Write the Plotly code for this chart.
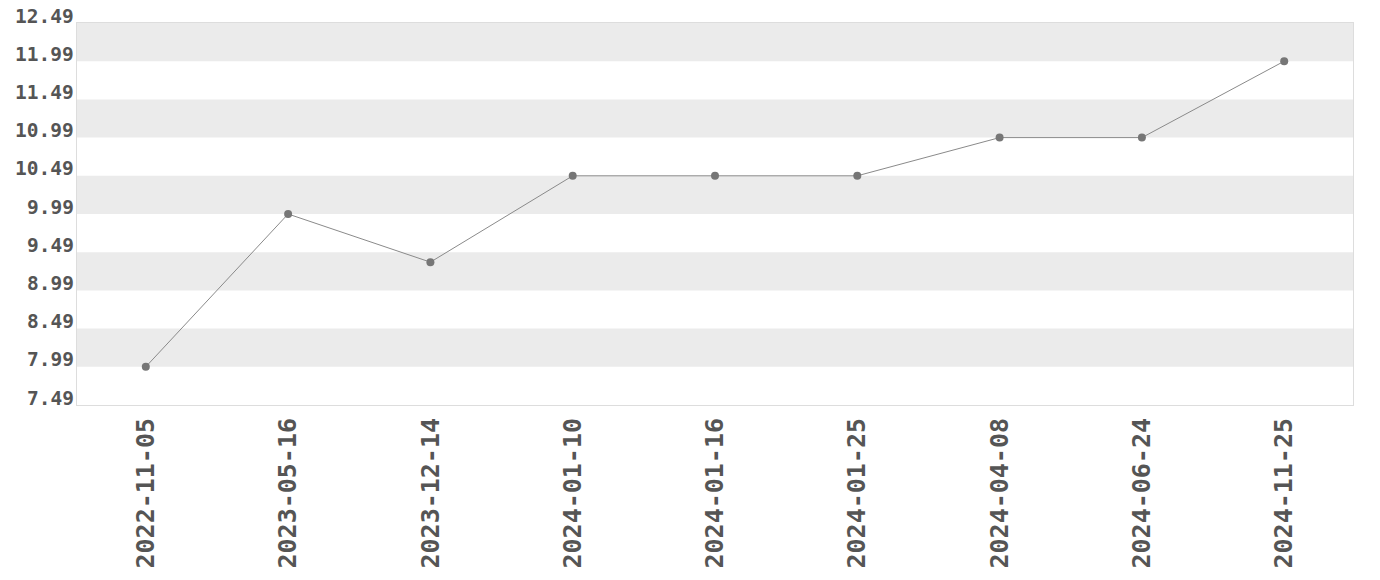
import plotly.graph_objs as go
import numpy as np

dates = ["2022-11-05", "2023-05-16", "2023-12-14", "2024-01-10", "2024-01-16",
         "2024-01-25", "2024-04-08", "2024-06-24", "2024-11-25"]
prices = [7.99, 9.99, 9.36, 10.49, 10.49, 10.49, 10.99, 10.99, 11.99]
y_ticks = [7.49, 7.99, 8.49, 8.99, 9.49, 9.99, 10.49, 10.99, 11.49, 11.99, 12.49]

font_family = "DejaVu Sans Mono"
label_font = dict(size=19.5, family=font_family, weight="bold", color="#555555")

fig = go.Figure(go.Scatter(
    x=dates,
    y=prices,
    mode="lines+markers",
    line=dict(color="#8a8a8a", width=1),
    marker=dict(color="#767676", size=8),
    showlegend=False,
))

# alternating horizontal bands between tick values
shapes = []
for i in range(len(y_ticks) - 1):
    if (len(y_ticks) - 2 - i) % 2 == 0:
        shapes.append(dict(
            type="rect", xref="paper", yref="y", layer="below",
            x0=0, x1=1, y0=y_ticks[i], y1=y_ticks[i + 1],
            fillcolor="#ebebeb", line=dict(width=0),
        ))

# y labels sit just above their value line
annotations = [
    dict(x=0, xref="paper", y=v, yref="y", text=f"{v:.2f}", showarrow=False,
         xanchor="right", yanchor="middle", xshift=-1, yshift=7, font=label_font)
    for v in y_ticks
]

fig.update_layout(
    width=1380,
    height=580,
    margin=dict(l=77, r=27, t=23, b=175),
    paper_bgcolor="white",
    plot_bgcolor="white",
    shapes=shapes,
    annotations=annotations,
    font=dict(family=font_family, color="#555555"),
)
fig.update_xaxes(
    type="category",
    tickangle=-90,
    tickfont=dict(size=25, family=font_family, weight="bold", color="#555555"),
    showgrid=False, automargin=False,
    showline=True, mirror=True, linecolor="#dddddd", linewidth=1,
    ticks="", ticklabelstandoff=2,
)
fig.update_yaxes(
    range=[y_ticks[0], y_ticks[-1]],
    tickvals=y_ticks,
    showticklabels=False,
    showgrid=False, zeroline=False, automargin=False,
    showline=True, mirror=True, linecolor="#dddddd", linewidth=1,
    ticks="",
)

fig.write_html("out.html", config={"displayModeBar": False},
               post_script="document.body.style.margin='0';")
